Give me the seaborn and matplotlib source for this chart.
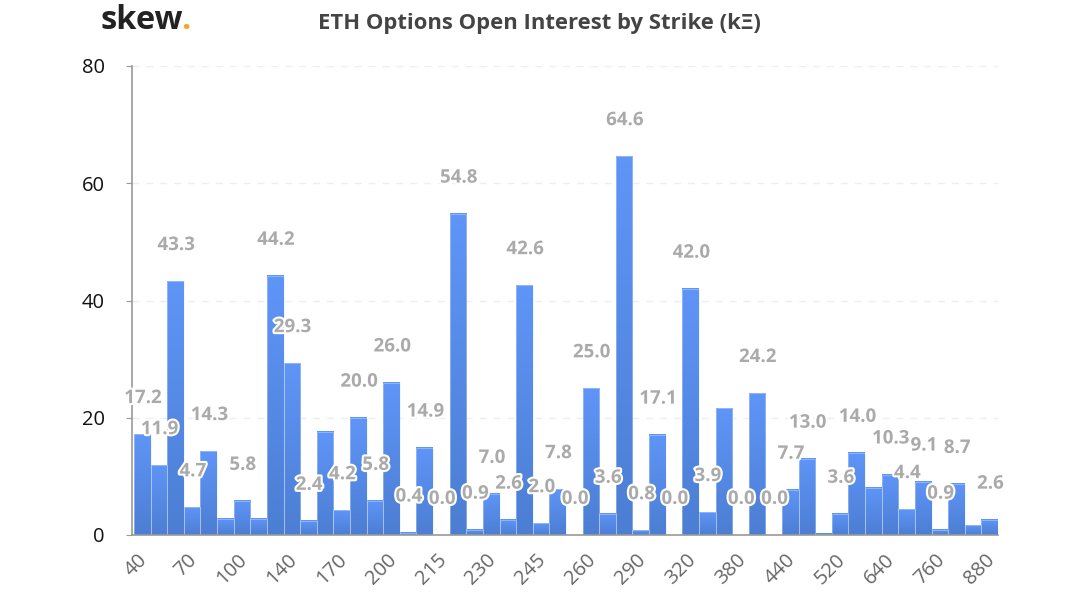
# ETH options open interest by strike

import numpy as np
import pandas as pd
import matplotlib
matplotlib.use("Agg")
import matplotlib.pyplot as plt
import matplotlib.patheffects as pe
from matplotlib.colors import LinearSegmentedColormap
from matplotlib.transforms import ScaledTranslation
import seaborn as sns

open_interest = [17.2, 11.9, 43.3, 4.7, 14.3, 2.8, 5.8, 2.8, 44.2, 29.3,
                 2.4, 17.6, 4.2, 20.0, 5.8, 26.0, 0.4, 14.9, 0.0, 54.8,
                 0.9, 7.0, 2.6, 42.6, 2.0, 7.8, 0.0, 25.0, 3.6, 64.6,
                 0.8, 17.1, 0.0, 42.0, 3.9, 21.6, 0.0, 24.2, 0.0, 7.7,
                 13.0, 0.2, 3.6, 14.0, 8.1, 10.3, 4.4, 9.1, 0.9, 8.7,
                 1.7, 2.6]
# labels the chart hides because they collide with a neighbour
hidden_labels = [5, 7, 11, 35, 41, 44, 50]
strike_labels = ["40", "70", "100", "140", "170", "200", "215", "230", "245",
                 "260", "290", "320", "380", "440", "520", "640", "760", "880"]
y_ticks = [0, 20, 40, 60, 80]

sns.set_style("white")
plt.rcParams["font.family"] = ["Open Sans", "DejaVu Sans"]

df = pd.DataFrame({"pos": range(len(open_interest)), "oi": open_interest})

W, H = 1080, 603
fig = plt.figure(figsize=(W / 100, H / 100), dpi=100)
ax = fig.add_axes([132 / W, 1 - 535 / H, 866 / W, 469 / H])

sns.barplot(x="pos", y="oi", data=df, ax=ax, width=1.0, color="#5b8ff0",
            edgecolor=(0.85, 0.9, 1.0, 0.4), linewidth=0.7, saturation=1)

# each bar gets its own vertical gradient
grad = LinearSegmentedColormap.from_list("bar", ["#4c7ed3", "#5f95f7"])
ramp = np.linspace(0, 1, 64).reshape(-1, 1)
for patch in list(ax.patches):
    x0, w, h = patch.get_x(), patch.get_width(), patch.get_height()
    if h <= 0:
        continue
    ax.imshow(ramp, extent=[x0, x0 + w, 0, h], origin="lower", cmap=grad,
              aspect="auto", zorder=2.1, interpolation="nearest")
    patch.set_facecolor("none")
    patch.set_zorder(2.2)

ax.set_xlim(-0.62, len(open_interest) - 0.5)
ax.set_ylim(0, 80)

# labels float a fixed distance above the bars
for i, v in enumerate(open_interest):
    if i in hidden_labels:
        continue
    ax.annotate(f"{v:.1f}", (i + 0.05, v), xytext=(0, 26), textcoords="offset points",
                ha="center", va="center", fontsize=13.5, fontweight="bold",
                color="#aaaaaa", zorder=5,
                path_effects=[pe.withStroke(linewidth=3, foreground="white")])

ax.set_yticks(y_ticks)
ax.set_xticks(range(0, len(open_interest), 3))
ax.set_xticklabels(strike_labels, rotation=45, ha="right", rotation_mode="anchor")
ax.tick_params(axis="y", length=4.5, width=0.8, color="#999999", pad=15,
               labelsize=14.5, labelcolor="#111111", left=True)
ax.tick_params(axis="x", length=0, pad=10, labelsize=14.5, labelcolor="#666666")
shift = ScaledTranslation(-5 / 100, -1 / 100, fig.dpi_scale_trans)
for lab in ax.get_xticklabels():
    lab.set_transform(lab.get_transform() + shift)
ax.set_xlabel("")
ax.set_ylabel("")

ax.yaxis.grid(True, linestyle=(0, (5, 5)), color="#eeeeee", linewidth=1)
ax.set_axisbelow(True)
for side in ["top", "right"]:
    ax.spines[side].set_visible(False)
for side in ["left", "bottom"]:
    ax.spines[side].set_color("#999999")
    ax.spines[side].set_linewidth(1.2)
ax.spines["bottom"].set_zorder(6)

fig.text(539.5 / W, 1 - 23.5 / H, "ETH Options Open Interest by Strike (kΞ)",
         ha="center", va="center", fontsize=15.8, fontweight="bold", color="#444444")
fig.text(101 / W, 1 - 29 / H, "skew", ha="left", va="baseline", fontsize=23.5,
         fontweight="bold", color="#222222")
fig.text(181.5 / W, 1 - 29 / H, ".", ha="left", va="baseline", fontsize=23.5,
         fontweight="bold", color="#f5a623")

fig.savefig("out.png", dpi=100)
